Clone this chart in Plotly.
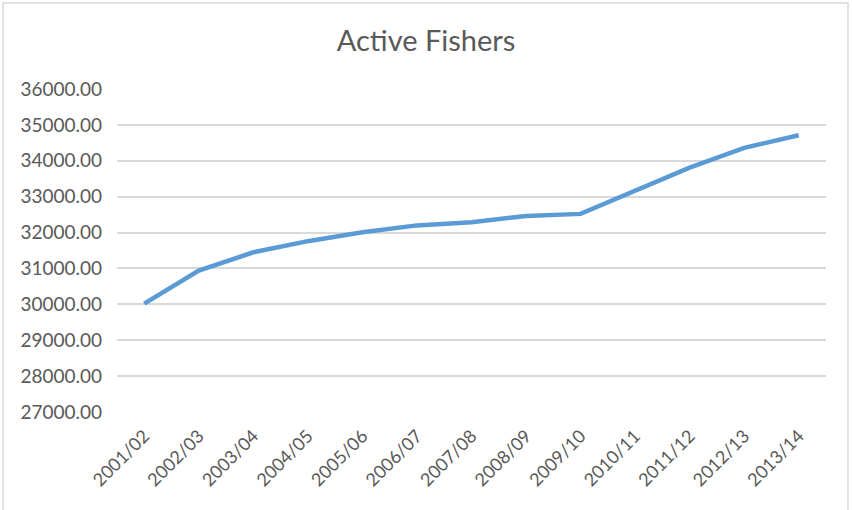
import plotly.graph_objects as go

seasons = [
    "2001/02", "2002/03", "2003/04", "2004/05", "2005/06", "2006/07", "2007/08",
    "2008/09", "2009/10", "2010/11", "2011/12", "2012/13", "2013/14",
]
active_fishers = [
    30020, 30940, 31450, 31760, 32010, 32200, 32290,
    32460, 32520, 33180, 33810, 34360, 34710,
]

text_color = "#595959"
grid_color = "#d9d9d9"

fig = go.Figure()
fig.add_trace(
    go.Scatter(
        x=seasons,
        y=active_fishers,
        mode="lines",
        line=dict(color="#5b9bd5", width=4.5),
        name="Active Fishers",
    )
)

fig.update_layout(
    width=852,
    height=510,
    paper_bgcolor="white",
    plot_bgcolor="white",
    showlegend=False,
    margin=dict(l=117, r=26, t=89, b=98, autoexpand=False),
    font=dict(family="Lato, Open Sans, sans-serif", color=text_color, size=18),
    title=dict(
        text="Active Fishers",
        x=0.5,
        xanchor="center",
        y=0.919,
        yanchor="middle",
        font=dict(size=29, color=text_color),
    ),
    xaxis=dict(
        type="category",
        range=[-0.5, len(seasons) - 0.5],
        tickangle=-45,
        showgrid=False,
        showline=False,
        ticks="",
        ticklabelstandoff=9,
        automargin=False,
        tickfont=dict(size=18, color=text_color),
    ),
    yaxis=dict(
        range=[27000, 36000],
        dtick=1000,
        tickformat=".2f",
        showgrid=True,
        gridcolor=grid_color,
        gridwidth=1.5,
        zeroline=False,
        showline=False,
        ticks="",
        ticklabelstandoff=14,
        automargin=False,
        tickfont=dict(size=19, color=text_color),
    ),
)

# chart-area border like the spreadsheet frame
fig.add_shape(
    type="rect",
    xref="paper",
    yref="paper",
    x0=-0.1608,
    x1=1.031,
    y0=-0.319,
    y1=1.266,
    line=dict(color="#d9d9d9", width=1.5),
    fillcolor="rgba(0,0,0,0)",
    layer="below",
)

# page has no body margin so the frame lines up with the window
fig.write_html(
    "out.html",
    config={"displayModeBar": False},
    post_script="document.body.style.margin = '0';",
)
